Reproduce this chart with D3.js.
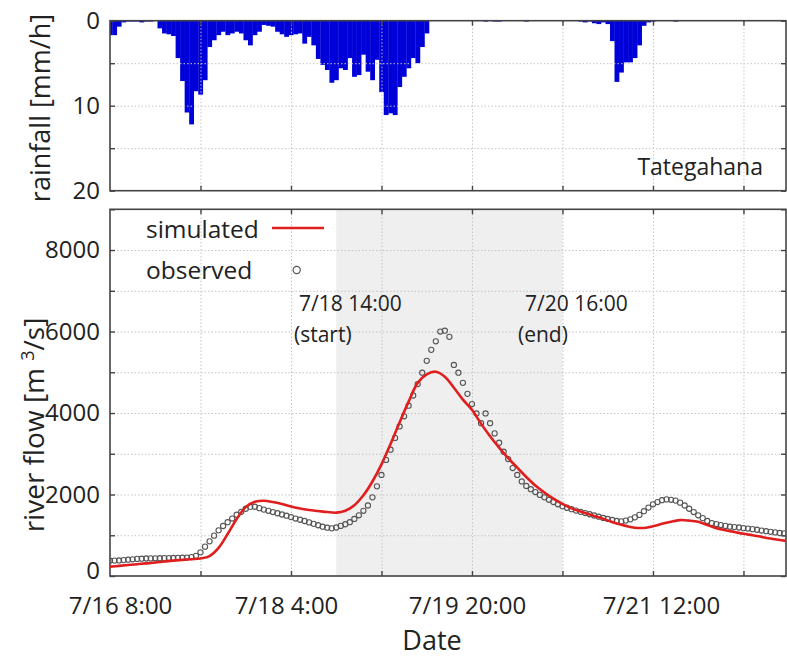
<!DOCTYPE html>
<html>
<head>
<meta charset="utf-8">
<script src="https://cdn.jsdelivr.net/npm/d3@7/dist/d3.min.js"></script>
<style>
    body { margin: 0; background: #fff; }
    svg { display: block; font-family: "Open Sans", sans-serif; }
    .grid line { stroke: #c4c4c4; stroke-width: 1; stroke-dasharray: 1.5, 2; }
    .grid path { display: none; }
    .axis path { display: none; }
    .axis line { stroke: #444; stroke-width: 1.4; }
    .axis text { font-size: 24px; fill: #222; font-family: "Open Sans", sans-serif; }
</style>
</head>
<body>
<div id="chart"></div>
<script>
// hours counted from the first tick of the time axis
const timeTicks = [0, 20, 40, 60, 80, 100, 120, 140];
const timeTickLabels = { 0: "7/16 8:00", 40: "7/18 4:00", 80: "7/19 20:00", 120: "7/21 12:00" };
const timeEnd = 149.4;
const periodStart = 50;   // 7/18 14:00
const periodEnd = 100;    // 7/20 16:00

const rainTicks = [0, 5, 10, 15, 20];
const rainTickLabels = [0, 10, 20];
const flowTicks = [0, 1000, 2000, 3000, 4000, 5000, 6000, 7000, 8000, 9000];
const flowTickLabels = [0, 2000, 4000, 6000, 8000];

// hourly rainfall at Tategahana [mm/h]
const rainfall = [
    1.7, 1.7, 0.7, 0.2, 0.1, 0.1, 0.1, 0.2, 0.1, 0.1,
    0.0, 0.9, 1.5, 1.6, 1.8, 4.4, 7.1, 10.8, 12.2, 8.3,
    8.7, 7.0, 3.1, 2.3, 1.7, 1.3, 1.7, 1.5, 1.3, 1.5,
    2.3, 2.9, 1.7, 1.3, 0.5, 0.6, 0.7, 1.3, 1.6, 1.9,
    1.7, 1.6, 1.5, 2.7, 1.9, 2.9, 4.5, 5.2, 5.8, 7.3,
    7.0, 5.6, 5.8, 4.4, 6.6, 6.4, 4.0, 6.0, 7.0, 4.6,
    8.4, 11.1, 10.9, 11.1, 7.8, 6.6, 5.6, 4.4, 5.0, 3.1,
    1.5, 0, 0, 0, 0, 0, 0, 0, 0, 0,
    0, 0, 0, 0.1, 0, 0.1, 0.1, 0, 0, 0,
    0, 0, 0.1, 0, 0, 0, 0, 0, 0, 0,
    0, 0, 0, 0, 0.1, 0.2, 0.1, 0.3, 0.4, 0.2,
    0.4, 2.4, 7.2, 6.1, 4.9, 4.9, 4.4, 2.9, 0.6, 0.2,
    0.1, 0, 0, 0, 0, 0.1, 0, 0, 0, 0,
    0, 0, 0, 0, 0, 0, 0, 0, 0, 0,
    0, 0, 0, 0, 0, 0, 0, 0, 0, 0
];

// hourly observed river flow [m3/s]
const observed = [
    376, 378, 382, 390, 400, 410, 420, 425, 430, 432,
    434, 436, 438, 440, 442, 445, 448, 452, 465, 495,
    580, 720, 850, 990, 1120, 1227, 1320, 1410, 1505, 1575,
    1650, 1695, 1700, 1665, 1630, 1600, 1570, 1540, 1510, 1480,
    1445, 1410, 1380, 1350, 1315, 1280, 1245, 1210, 1185, 1170,
    1190, 1230, 1270, 1320, 1400, 1490, 1600, 1730, 1930, 2200,
    2480, 2850, 3100, 3390, 3670, 3920, 4180, 4430, 4710, 4990,
    5280, 5550, 5760, 6000, 6020, 5870, 5180, 4990, 4740, 4470,
    4220, 3990, 3750, 3990, 3750, 3500, 3270, 3050, 2870, 2650,
    2480, 2320, 2210, 2130, 2060, 1990, 1930, 1870, 1815, 1760,
    1710, 1675, 1640, 1605, 1575, 1545, 1515, 1485, 1455, 1425,
    1400, 1375, 1350, 1340, 1360, 1390, 1440, 1500, 1590, 1680,
    1760, 1815, 1860, 1880, 1870, 1850, 1800, 1730, 1650, 1570,
    1490, 1420, 1350, 1300, 1275, 1250, 1230, 1210, 1200, 1190,
    1175, 1165, 1150, 1135, 1115, 1100, 1085, 1070, 1055, 1045
];

// simulated river flow every 2 hours [m3/s]
const simStep = 2;
const simulated = [
    229, 248, 268, 290, 310, 330, 355, 378, 395, 412,
    430, 490, 690, 1030, 1400, 1690, 1820, 1848, 1815, 1765,
    1705, 1655, 1620, 1595, 1570, 1555, 1600, 1735, 1980, 2320,
    2740, 3240, 3770, 4280, 4740, 4950, 5014, 4890, 4620, 4330,
    4080, 3740, 3430, 3150, 2890, 2660, 2430, 2220, 2050, 1900,
    1770, 1660, 1585, 1510, 1440, 1365, 1290, 1230, 1185, 1180,
    1220, 1280, 1330, 1372, 1360, 1330, 1250, 1175, 1125, 1080,
    1035, 1000, 960, 920, 885, 850
];

class RainfallRunoff {
    constructor(container) {
        this.container = container;
        this.init();
    }

    init() {
        this.width = 787;
        this.height = 661;
        this.left = 110;
        this.right = 786;
        this.tick = 5;

        this.createSvg();
        this.createScales();
        this.drawRain();
        this.drawFlow();
        this.drawLabels();
    }

    createSvg() {
        this.svg = d3.select(this.container)
            .append("svg")
            .attr("width", this.width)
            .attr("height", this.height);
        this.defs = this.svg.append("defs");
    }

    createScales() {
        this.x = d3.scaleLinear().domain([0, timeEnd]).range([this.left, this.right]);
        this.yRain = d3.scaleLinear().domain([0, 20]).range([20.7, 190.7]);
        this.yFlow = d3.scaleLinear().domain([0, 9000]).range([576, 209.3]);
    }

    clip(id, y) {
        const [a, b] = d3.extent(y.range());
        this.defs.append("clipPath").attr("id", id)
            .append("rect")
            .attr("x", this.left).attr("y", a)
            .attr("width", this.right - this.left).attr("height", b - a);
        return `url(#${id})`;
    }

    // grid, frame and inward ticks of one panel
    frame(y, yTicks, yLabels, showTime) {
        const [top, bottom] = d3.extent(y.range());
        const inner = timeTicks.filter(t => t > 0);

        this.svg.append("g").attr("class", "grid")
            .attr("transform", `translate(0,${bottom})`)
            .call(d3.axisBottom(this.x).tickValues(inner).tickSize(-(bottom - top)).tickFormat(""));
        this.svg.append("g").attr("class", "grid")
            .attr("transform", `translate(${this.left},0)`)
            .call(d3.axisLeft(y).tickValues(yTicks.filter(v => y(v) > top + 1 && y(v) < bottom - 1))
                .tickSize(-(this.right - this.left)).tickFormat(""));

        this.svg.append("rect")
            .attr("x", this.left).attr("y", top)
            .attr("width", this.right - this.left).attr("height", bottom - top)
            .attr("fill", "none").attr("stroke", "#444").attr("stroke-width", 1.6);

        const bottomAxis = d3.axisBottom(this.x)
            .tickSize(-this.tick).tickPadding(21)
            .tickFormat(t => showTime ? (timeTickLabels[t] || "") : "");
        const gb = this.svg.append("g").attr("class", "axis")
            .attr("transform", `translate(0,${bottom})`)
            .call(bottomAxis.tickValues(showTime ? timeTicks : inner));
        gb.selectAll("text").attr("font-size", "23.5px");
        gb.selectAll(".tick").filter(t => t === 0).select("line").remove();
        gb.selectAll(".tick").filter(t => t === 0).select("text").attr("dx", 10);
        gb.selectAll(".tick").filter(t => t === 40 || t === 80).select("text").attr("dx", -5);
        gb.selectAll(".tick").filter(t => t === 120).select("text").attr("dx", 8);

        this.svg.append("g").attr("class", "axis")
            .attr("transform", `translate(0,${top})`)
            .call(d3.axisTop(this.x).tickValues(inner).tickSize(-this.tick).tickFormat(""));

        const gl = this.svg.append("g").attr("class", "axis")
            .attr("transform", `translate(${this.left},0)`)
            .call(d3.axisLeft(y).tickValues(yTicks).tickSize(-this.tick).tickPadding(10)
                .tickFormat(v => yLabels.includes(v) ? v : ""));
        if (showTime) {
            // lift the bottom "0" clear of the date labels
            gl.selectAll(".tick").filter(v => v === 0).select("text").attr("dy", "0.1em");
        }

        this.svg.append("g").attr("class", "axis")
            .attr("transform", `translate(${this.right},0)`)
            .call(d3.axisRight(y).tickValues(yTicks).tickSize(-this.tick).tickFormat(""));
    }

    drawRain() {
        const clip = this.clip("rain-area", this.yRain);
        const bw = this.x(1) - this.x(0);

        this.svg.append("g").attr("clip-path", clip)
            .selectAll("rect")
            .data(rainfall)
            .enter()
            .append("rect")
            .attr("x", (d, i) => this.x(i - 0.5))
            .attr("width", bw + 0.3)
            .attr("y", this.yRain(0))
            .attr("height", d => this.yRain(d) - this.yRain(0))
            .attr("fill", "#0000d8");

        this.frame(this.yRain, rainTicks, rainTickLabels, false);

        this.svg.append("text")
            .attr("x", 763).attr("y", 175)
            .attr("text-anchor", "end")
            .attr("font-size", "23px").attr("fill", "#222")
            .text("Tategahana");
    }

    drawFlow() {
        const [top, bottom] = d3.extent(this.yFlow.range());

        // calibration period
        this.svg.append("rect")
            .attr("x", this.x(periodStart)).attr("y", top)
            .attr("width", this.x(periodEnd) - this.x(periodStart))
            .attr("height", bottom - top)
            .attr("fill", "#efefef");

        this.frame(this.yFlow, flowTicks, flowTickLabels, true);

        const clip = this.clip("flow-area", this.yFlow);
        const plot = this.svg.append("g").attr("clip-path", clip);

        plot.append("g")
            .selectAll("circle")
            .data(observed)
            .enter()
            .append("circle")
            .attr("cx", (d, i) => this.x(i))
            .attr("cy", d => this.yFlow(d))
            .attr("r", 2.6)
            .attr("fill", "none")
            .attr("stroke", "#555")
            .attr("stroke-width", 1.1);

        const line = d3.line()
            .x((d, i) => this.x(i * simStep))
            .y(d => this.yFlow(d))
            .curve(d3.curveCatmullRom);

        plot.append("path")
            .datum(simulated)
            .attr("d", line)
            .attr("fill", "none")
            .attr("stroke", "#e01e1e")
            .attr("stroke-width", 2.6);
    }

    drawLabels() {
        const text = (x, y, s, size, anchor) => this.svg.append("text")
            .attr("x", x).attr("y", y)
            .attr("font-size", size + "px")
            .attr("fill", "#222")
            .attr("text-anchor", anchor || "start")
            .text(s);

        // legend
        text(146, 238, "simulated", 24.5);
        text(146, 279, "observed", 24.5);
        this.svg.append("line")
            .attr("x1", 272).attr("x2", 324).attr("y1", 228).attr("y2", 228)
            .attr("stroke", "#e01e1e").attr("stroke-width", 2.6);
        this.svg.append("circle")
            .attr("cx", 296.7).attr("cy", 270).attr("r", 3.6)
            .attr("fill", "none").attr("stroke", "#555").attr("stroke-width", 1.2);

        // period annotations
        text(299, 311, "7/18 14:00", 21);
        text(294, 342, "(start)", 21);
        text(525, 311, "7/20 16:00", 21);
        text(518, 342, "(end)", 21);

        // axis titles
        text(432, 650, "Date", 27, "middle");

        this.svg.append("text")
            .attr("transform", "translate(50,108) rotate(-90)")
            .attr("text-anchor", "middle")
            .attr("font-size", "27px").attr("fill", "#222")
            .text("rainfall [mm/h]");

        const flowTitle = this.svg.append("text")
            .attr("transform", "translate(44,425) rotate(-90)")
            .attr("text-anchor", "middle")
            .attr("font-size", "28px").attr("fill", "#222");
        flowTitle.append("tspan").text("river flow [m ");
        flowTitle.append("tspan").attr("font-size", "18px").attr("dy", -10).text("3");
        flowTitle.append("tspan").attr("dy", 10).text("/s]");
    }
}

new RainfallRunoff("#chart");
</script>
</body>
</html>
